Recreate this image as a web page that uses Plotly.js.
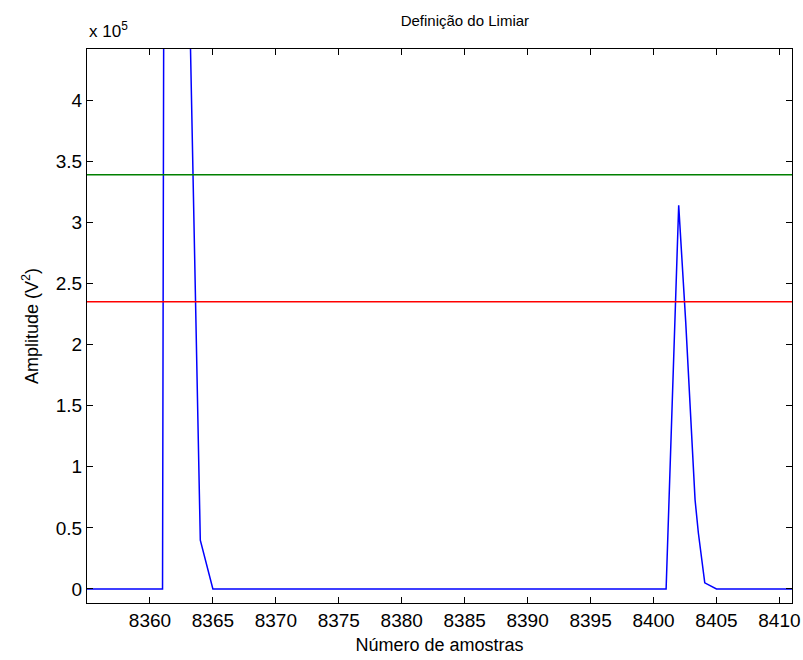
<!DOCTYPE html>
<html>
<head>
<meta charset="utf-8">
<script src="https://cdn.plot.ly/plotly-3.0.1.min.js"></script>
<style>html,body{margin:0;padding:0;background:#fff;}#chart{width:803px;height:660px;}</style>
</head>
<body>
<div id="chart"></div>
<script>
// Signal samples (Número de amostras vs amplitude V^2)
var sampleX = [8355, 8361, 8362, 8363, 8364, 8365, 8401, 8402, 8402.56, 8403.3, 8403.56, 8403.83, 8404.07, 8405, 8411];
var sampleY = [0, 0, 5000000, 557000, 40000, 0, 0, 314000, 218000, 73000, 46000, 21500, 5000, 0, 0];
// Threshold levels
var upperThreshold = 339000;
var lowerThreshold = 235000;
var xRange = [8355, 8411];
var yRange = [-11500, 442000];
var xTickVals = [8360, 8365, 8370, 8375, 8380, 8385, 8390, 8395, 8400, 8405, 8410];
var yTickVals = [0, 50000, 100000, 150000, 200000, 250000, 300000, 350000, 400000];
var yTickText = ['0', '0.5', '1', '1.5', '2', '2.5', '3', '3.5', '4'];

var traces = [
  {x: sampleX, y: sampleY, mode: 'lines', line: {color: 'rgb(0,0,255)', width: 1.5}, hoverinfo: 'skip'},
  {x: xRange, y: [upperThreshold, upperThreshold], mode: 'lines', line: {color: 'rgb(0,128,0)', width: 1.5}},
  {x: xRange, y: [lowerThreshold, lowerThreshold], mode: 'lines', line: {color: 'rgb(255,0,0)', width: 1.5}}
];

var fontFam = 'Liberation Sans, Arial, sans-serif';
var layout = {
  width: 803, height: 660,
  margin: {l: 87, r: 11, t: 49, b: 57},
  paper_bgcolor: '#fff', plot_bgcolor: '#fff',
  showlegend: false,
  font: {family: fontFam, color: '#000', size: 18},
  title: {text: 'Definição do Limiar', font: {family: fontFam, size: 15, color: '#000'}, x: 0.536, xanchor: 'center', y: 0.968, yanchor: 'middle', xref: 'paper'},
  xaxis: {
    range: xRange, tickvals: xTickVals, ticks: 'inside', ticklen: 6, tickcolor: '#000',
    showline: true, linecolor: '#000', linewidth: 1, mirror: 'ticks', showgrid: false, zeroline: false,
    tickfont: {family: fontFam, size: 19, color: '#000'},
    title: {text: 'Número de amostras', font: {family: fontFam, size: 18, color: '#000'}, standoff: 8}
  },
  yaxis: {
    range: yRange, tickvals: yTickVals, ticktext: yTickText, ticks: 'inside', ticklen: 6, tickcolor: '#000',
    showline: true, linecolor: '#000', linewidth: 1, mirror: 'ticks', showgrid: false, zeroline: false,
    tickfont: {family: fontFam, size: 19, color: '#000'},
    title: {text: 'Amplitude (V<sup>2</sup>)', font: {family: fontFam, size: 18, color: '#000'}, standoff: 12}
  },
  annotations: [
    {text: 'x 10<sup>5</sup>', xref: 'paper', yref: 'paper', x: 0, y: 1, xanchor: 'left', yanchor: 'bottom', yshift: 6, showarrow: false, font: {family: fontFam, size: 17, color: '#000'}}
  ]
};

Plotly.newPlot('chart', traces, layout, {staticPlot: true, displayModeBar: false});
</script>
</body>
</html>
